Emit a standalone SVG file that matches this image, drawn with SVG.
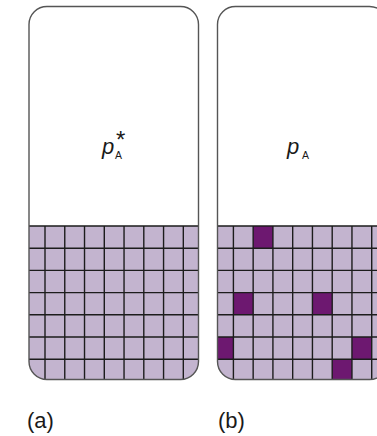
<svg xmlns="http://www.w3.org/2000/svg" width="377" height="436" viewBox="0 0 377 436">
<style>
.box{fill:none;stroke:#555;stroke-width:1.4}
.cells{fill:#c3b4cf}
.grid{fill:none;stroke:#1c1c1c;stroke-width:1.4}
.dark{fill:#6d1870}
.t{font-family:"Liberation Sans",Arial,sans-serif;fill:#1a1a1a}
.var{font-size:22px;font-style:italic}
.sub{font-size:10.5px;font-style:normal}
.star{font-size:24px;font-style:normal}
</style>
<defs>
<clipPath id="clipA"><rect x="29" y="6.5" width="169.5" height="373" rx="18"/></clipPath>
<clipPath id="clipB"><rect x="217.5" y="6.5" width="170" height="373" rx="18"/></clipPath>
</defs>
<g id="panel-a">
<g clip-path="url(#clipA)">
<rect class="cells" x="29" y="226" width="170" height="154"/>
<path class="grid" d="M45 226V380M64.76 226V380M84.52 226V380M104.28 226V380M124.04 226V380M143.8 226V380M163.56 226V380M183.32 226V380M29 226H199M29 248.2H199M29 270.4H199M29 292.6H199M29 314.8H199M29 337H199M29 359.2H199"/>
</g>
<rect class="box" x="29" y="6.5" width="169.5" height="373" rx="18"/>
<text class="t var" x="102" y="154">p<tspan class="sub" x="115" y="159">A</tspan><tspan class="star" x="116" y="147.5">*</tspan></text>
<text class="t" x="27" y="428" font-size="22">(a)</text>
</g>
<g id="panel-b">
<g clip-path="url(#clipB)">
<rect class="cells" x="217.5" y="226" width="170" height="154"/>
<rect class="dark" x="253.16" y="226" width="19.76" height="22.2"/>
<rect class="dark" x="233.4" y="292.6" width="19.76" height="22.2"/>
<rect class="dark" x="312.44" y="292.6" width="19.76" height="22.2"/>
<rect class="dark" x="217.5" y="337" width="15.9" height="22.2"/>
<rect class="dark" x="351.96" y="337" width="19.76" height="22.2"/>
<rect class="dark" x="332.2" y="359.2" width="19.76" height="21"/>
<path class="grid" d="M233.4 226V380M253.16 226V380M272.92 226V380M292.68 226V380M312.44 226V380M332.2 226V380M351.96 226V380M371.72 226V380M217 226H388M217 248.2H388M217 270.4H388M217 292.6H388M217 314.8H388M217 337H388M217 359.2H388"/>
</g>
<rect class="box" x="217.5" y="6.5" width="170" height="373" rx="18"/>
<text class="t var" x="287" y="154">p<tspan class="sub" x="302" y="159">A</tspan></text>
<text class="t" x="218" y="428" font-size="22">(b)</text>
</g>
</svg>
